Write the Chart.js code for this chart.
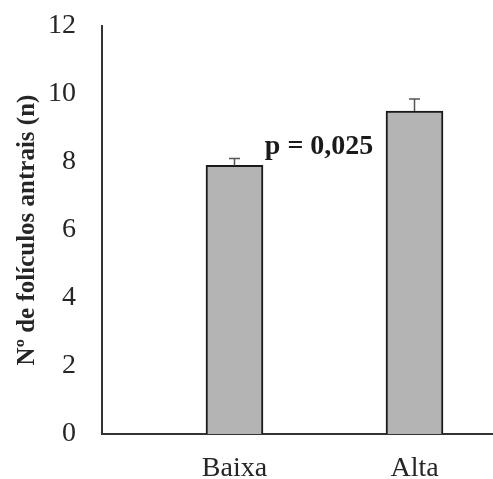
<!DOCTYPE html>
<html>
<head>
<meta charset="utf-8">
<script src="https://cdn.jsdelivr.net/npm/chart.js@4/dist/chart.umd.min.js"></script>
<style>
  body { margin: 0; background: #fff; }
  canvas { display: block; }
</style>
</head>
<body>
<canvas id="follicleChart" width="493" height="479"></canvas>
<script>
const categories = ['Baixa', 'Alta'];
const follicleMeans = [7.9, 9.5];
const follicleErrors = [0.2, 0.35];
const yTicks = [0, 2, 4, 6, 8, 10, 12];
const pLabel = 'p = 0,025';

const serif = '"Liberation Serif", "Times New Roman", serif';
const textColor = '#262626';

// error bars (only the upper half is visible in the original)
const errorBars = {
    id: 'errorBars',
    afterDatasetsDraw(chart) {
        const ctx = chart.ctx;
        const yScale = chart.scales.y;
        const meta = chart.getDatasetMeta(0);
        ctx.save();
        ctx.strokeStyle = '#555';
        ctx.lineWidth = 1.5;
        meta.data.forEach((bar, i) => {
            const top = yScale.getPixelForValue(follicleMeans[i] + follicleErrors[i]);
            ctx.beginPath();
            ctx.moveTo(bar.x, bar.y);
            ctx.lineTo(bar.x, top);
            ctx.moveTo(bar.x - 5.5, top);
            ctx.lineTo(bar.x + 5.5, top);
            ctx.stroke();
        });
        ctx.restore();
    }
};

const pValueLabel = {
    id: 'pValueLabel',
    afterDraw(chart) {
        const ctx = chart.ctx;
        ctx.save();
        ctx.font = 'bold 28px ' + serif;
        ctx.fillStyle = '#1a1a1a';
        ctx.textAlign = 'center';
        ctx.textBaseline = 'alphabetic';
        ctx.fillText(pLabel, chart.scales.x.getPixelForValue(1.47), chart.scales.y.getPixelForValue(8.24));
        ctx.restore();
    }
};

new Chart(document.getElementById('follicleChart'), {
    type: 'bar',
    data: {
        datasets: [{
            data: follicleMeans.map((v, i) => ({ x: i + 1, y: v })),
            backgroundColor: '#b4b4b4',
            borderColor: '#1a1a1a',
            borderWidth: 2,
            barThickness: 57
        }]
    },
    options: {
        responsive: false,
        animation: false,
        devicePixelRatio: 1,
        layout: { padding: { top: 26, right: 0, bottom: 0, left: 0 } },
        plugins: {
            legend: { display: false },
            tooltip: { enabled: false }
        },
        scales: {
            x: {
                type: 'linear',
                offset: false,
                min: 0.264,
                max: 2.436,
                grid: { display: false, offset: false },
                border: { color: '#333', width: 2 },
                afterBuildTicks: s => { s.ticks = categories.map((c, i) => ({ value: i + 1 })); },
                afterFit: s => { s.height = 45; },
                ticks: {
                    padding: 10,
                    autoSkip: false,
                    maxRotation: 0,
                    color: textColor,
                    font: { family: serif, size: 28 },
                    callback: v => categories[v - 1]
                }
            },
            y: {
                min: 0,
                max: 12,
                grid: { display: false },
                border: { color: '#333', width: 2 },
                afterBuildTicks: s => { s.ticks = yTicks.map(v => ({ value: v })); },
                afterFit: s => { s.width = 102; s.paddingTop = 0; s.paddingBottom = 0; },
                ticks: {
                    padding: 18,
                    color: textColor,
                    font: { family: serif, size: 28 }
                },
                title: {
                    display: true,
                    text: 'Nº de folículos antrais (n)',
                    color: textColor,
                    padding: { top: 13, bottom: 0 },
                    font: { family: serif, size: 25, weight: 'bold' }
                }
            }
        }
    },
    plugins: [errorBars, pValueLabel]
});
</script>
</body>
</html>
